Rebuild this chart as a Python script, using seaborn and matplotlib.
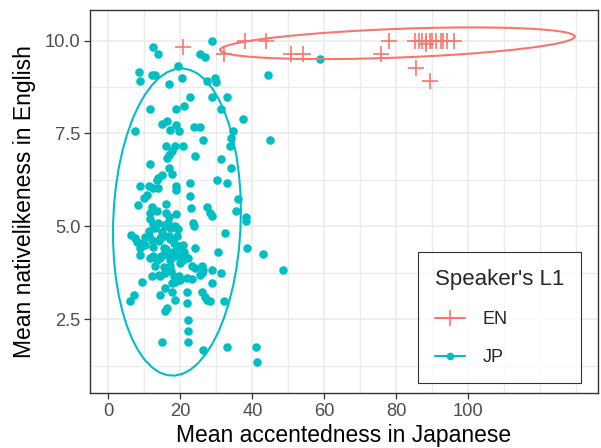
import numpy as np
import pandas as pd
import matplotlib
matplotlib.use("Agg")
import matplotlib.pyplot as plt
from matplotlib.lines import Line2D
from matplotlib.ticker import MultipleLocator
import seaborn as sns

# values (overlapping marks estimated)
en_accent = [20.8, 32.2, 37.9, 43.9, 50.8, 54.1, 78.0, 75.8, 85.3, 86.2, 88.1,
             89.2, 91.0, 92.4, 93.0, 96.1, 88.3, 85.5, 89.2, 87.0, 90.0, 94.0]
en_native = [9.83, 9.65, 10.0, 10.0, 9.65, 9.65, 10.0, 9.65, 10.0, 10.0, 10.0,
             10.0, 10.0, 10.0, 10.0, 10.0, 9.90, 9.25, 8.92, 10.0, 10.0, 10.0]

jp_accent = [28.7, 12.3, 13.8, 25.5, 26.9, 58.7, 8.4, 8.9, 12.1, 13.0, 19.4, 20.4,
             16.9, 27.3, 29.6, 29.9, 44.2, 22.7, 28.7, 32.9, 21.0, 18.7, 11.6, 31.3,
             37.3, 7.3, 14.9, 16.2, 17.0, 18.7, 19.5, 23.8, 25.5, 26.4, 34.7, 34.0,
             44.8, 16.0, 18.5, 20.6, 33.8, 24.1, 16.2, 16.9, 17.7, 31.3, 34.0, 11.6,
             16.9, 17.6, 14.9, 13.9, 13.5, 22.7, 30.1, 32.9, 8.9, 11.3, 12.5, 13.9,
             18.7, 18.7, 22.7, 10.7, 9.8, 36.1, 8.2, 12.2, 11.6, 16.1, 16.9, 18.8,
             23.0, 27.3, 28.2, 28.9, 35.4, 38.1, 38.1, 23.6, 23.9, 12.3, 13.9, 15.3,
             16.7, 17.4, 19.3, 11.2, 32.5, 6.4, 7.3, 7.9, 9.3, 10.2, 10.2, 11.2,
             12.1, 14.4, 15.3, 16.7, 18.1, 19.0, 19.9, 20.8, 15.5, 24.1, 38.6, 30.3,
             43.0, 8.9, 11.6, 12.5, 13.5, 14.4, 13.0, 18.5, 19.9, 20.8, 22.2, 17.2,
             23.2, 24.1, 25.9, 26.4, 28.7, 31.2, 48.5, 9.3, 12.1, 14.4, 15.8, 18.1,
             19.0, 19.5, 19.9, 17.6, 18.5, 21.8, 23.2, 25.9, 25.5, 28.7, 15.8, 14.4,
             17.6, 18.5, 21.8, 21.8, 25.9, 26.9, 27.3, 7.0, 6.1, 16.2, 15.8, 22.1,
             22.2, 22.1, 14.9, 26.4, 32.1, 28.2, 33.0, 41.0, 41.4, 8.9, 15.3, 16.6,
             14.0, 15.0, 16.0, 17.0, 13.0, 18.0, 14.5, 16.5, 19.0, 12.5, 15.5, 17.5,
             13.5, 20.0, 16.0, 18.5, 14.0, 21.0, 11.5, 17.0]
jp_native = [10.0, 9.83, 9.65, 9.65, 9.56, 9.50, 9.16, 8.91, 9.07, 9.07, 9.32, 8.98,
             8.82, 8.91, 8.98, 8.89, 9.07, 8.49, 8.49, 8.49, 8.24, 8.15, 8.15, 8.15,
             7.90, 7.57, 7.75, 7.83, 7.59, 7.72, 7.57, 7.66, 7.66, 7.32, 7.57, 7.39,
             7.32, 7.16, 7.16, 7.16, 7.16, 6.90, 6.85, 6.92, 7.02, 6.81, 6.58, 6.67,
             6.58, 6.42, 6.38, 6.29, 6.24, 6.16, 6.24, 6.16, 6.08, 6.08, 6.02, 6.02,
             6.08, 5.99, 5.82, 5.84, 5.75, 5.73, 5.57, 5.52, 5.35, 5.35, 5.26, 5.33,
             5.48, 5.51, 5.35, 5.27, 5.41, 5.26, 5.14, 5.10, 5.01, 5.06, 5.08, 5.03,
             4.99, 4.95, 4.92, 4.88, 4.81, 4.77, 4.68, 4.59, 4.54, 4.50, 4.70, 4.75,
             4.63, 4.68, 4.75, 4.75, 4.54, 4.45, 4.48, 4.50, 4.43, 4.41, 4.41, 4.32,
             4.25, 4.23, 4.14, 4.19, 4.09, 4.14, 3.92, 4.19, 4.23, 4.09, 4.14, 3.92,
             3.92, 3.87, 3.92, 3.83, 3.83, 3.74, 3.83, 3.49, 3.65, 3.65, 3.74, 3.65,
             3.60, 3.66, 3.56, 3.47, 3.51, 3.60, 3.58, 3.74, 3.69, 3.47, 3.33, 3.15,
             3.24, 3.02, 3.24, 2.93, 3.22, 3.11, 3.02, 3.15, 2.99, 2.80, 2.73, 2.48,
             2.17, 1.90, 1.90, 1.66, 2.99, 2.99, 1.74, 1.74, 1.34, 4.41, 4.25, 4.22,
             4.60, 4.85, 4.40, 4.65, 4.95, 4.30, 4.20, 5.10, 4.75, 4.45, 3.90, 3.80,
             5.40, 4.00, 5.60, 5.00, 3.70, 4.30, 5.20, 4.10]

groups = ["EN", "JP"]
palette = {"EN": "#F8766D", "JP": "#00BFC4"}

df = pd.concat([
    pd.DataFrame({"accent": en_accent, "native": en_native, "L1": "EN"}),
    pd.DataFrame({"accent": jp_accent, "native": jp_native, "L1": "JP"}),
], ignore_index=True)


# same as ggplot2 stat_ellipse(type = "t"): MASS::cov.trob + F quantile
def cov_trob(x, nu=5, maxit=25, tol=0.01):
    n, p = x.shape
    wt = np.ones(n)
    loc = x.mean(axis=0)
    w = np.sqrt(wt)
    for _ in range(maxit):
        w0 = w
        X = x - loc
        _, d, vt = np.linalg.svd(np.sqrt(w / w.sum())[:, None] * X, full_matrices=False)
        wX = X @ vt.T @ np.diag(1 / d)
        Q = (wX ** 2).sum(axis=1)
        w = wt * (nu + p) / (nu + Q)
        loc = (w[:, None] * x).sum(axis=0) / w.sum()
        if np.all(np.abs(w - w0) < tol):
            break
    X = np.sqrt(w)[:, None] * (x - loc)
    return loc, X.T @ X / wt.sum()


def t_ellipse(xv, yv, level=0.95, segments=51):
    data = np.column_stack([xv, yv])
    n = len(data)
    center, shape = cov_trob(data)
    d2 = n - 1
    qf = d2 / 2 * ((1 - level) ** (-2 / d2) - 1)
    radius = np.sqrt(2 * qf)
    theta = np.linspace(0, 2 * np.pi, segments + 1)
    circle = np.column_stack([np.cos(theta), np.sin(theta)])
    ell = center + radius * circle @ np.linalg.cholesky(shape).T
    return ell


sns.set_theme(style="white")
plt.rcParams["font.family"] = ["Liberation Sans", "DejaVu Sans"]

fig = plt.figure(figsize=(6.01, 4.48), dpi=100)
ax = fig.add_axes([90 / 601, 55 / 448, 508 / 601, 383 / 448])

ellipses = {}
for g in groups:
    sub = df[df["L1"] == g]
    ellipses[g] = t_ellipse(sub["accent"].values, sub["native"].values)

sns.scatterplot(data=df[df["L1"] == "JP"], x="accent", y="native", color=palette["JP"],
                marker="o", s=38, linewidth=0, legend=False, ax=ax, zorder=3)
sns.scatterplot(data=df[df["L1"] == "EN"], x="accent", y="native", color=palette["EN"],
                marker="+", s=130, linewidth=1.2, legend=False, ax=ax, zorder=3)
for g in groups:
    e = ellipses[g]
    ax.plot(e[:, 0], e[:, 1], color=palette[g], lw=1.5, zorder=4)

# limits include ellipses, 5% padding like ggplot
allx = np.concatenate([df["accent"].values] + [e[:, 0] for e in ellipses.values()])
ally = np.concatenate([df["native"].values] + [e[:, 1] for e in ellipses.values()])
pad_x = (allx.max() - allx.min()) * 0.05
pad_y = (ally.max() - ally.min()) * 0.05
ax.set_xlim(allx.min() - pad_x, allx.max() + pad_x)
ax.set_ylim(ally.min() - pad_y, ally.max() + pad_y)

ax.set_xticks([0, 20, 40, 60, 80, 100])
ax.set_yticks([2.5, 5.0, 7.5, 10.0])
ax.set_yticklabels(["2.5", "5.0", "7.5", "10.0"])
ax.xaxis.set_minor_locator(MultipleLocator(10))
ax.yaxis.set_minor_locator(MultipleLocator(1.25))
ax.grid(True, which="major", color="#EBEBEB", lw=1.1, zorder=0)
ax.grid(True, which="minor", color="#EBEBEB", lw=0.9, zorder=0)
ax.set_axisbelow(True)
ax.tick_params(which="major", length=4, width=0.9, color="#333333",
               labelcolor="#4D4D4D", labelsize=13.2, pad=3)
ax.tick_params(which="minor", length=0)
ax.tick_params(axis="x", bottom=True)
ax.tick_params(axis="y", left=True)
for sp in ax.spines.values():
    sp.set_color("#333333")
    sp.set_linewidth(1.0)

ax.set_xlabel("Mean accentedness in Japanese", fontsize=16.5, color="black", labelpad=3)
ax.set_ylabel("Mean nativelikeness in English", fontsize=16.5, color="black", labelpad=6)

handles = [
    Line2D([], [], color=palette["EN"], lw=1.5, marker="+", markersize=12, mew=1.2),
    Line2D([], [], color=palette["JP"], lw=1.5, marker="o", markersize=5.5, mew=0),
]
leg = ax.legend(handles, groups, title="Speaker's L1", loc="lower right",
                bbox_to_anchor=(0.967, 0.026), borderaxespad=0, frameon=True,
                fancybox=False, edgecolor="black", fontsize=13, title_fontsize=16,
                handlelength=1.7, handletextpad=0.95, labelspacing=1.15,
                borderpad=0.95)
leg.get_frame().set_linewidth(0.8)
leg._legend_box.align = "left"

fig.savefig("out.png", dpi=100)
